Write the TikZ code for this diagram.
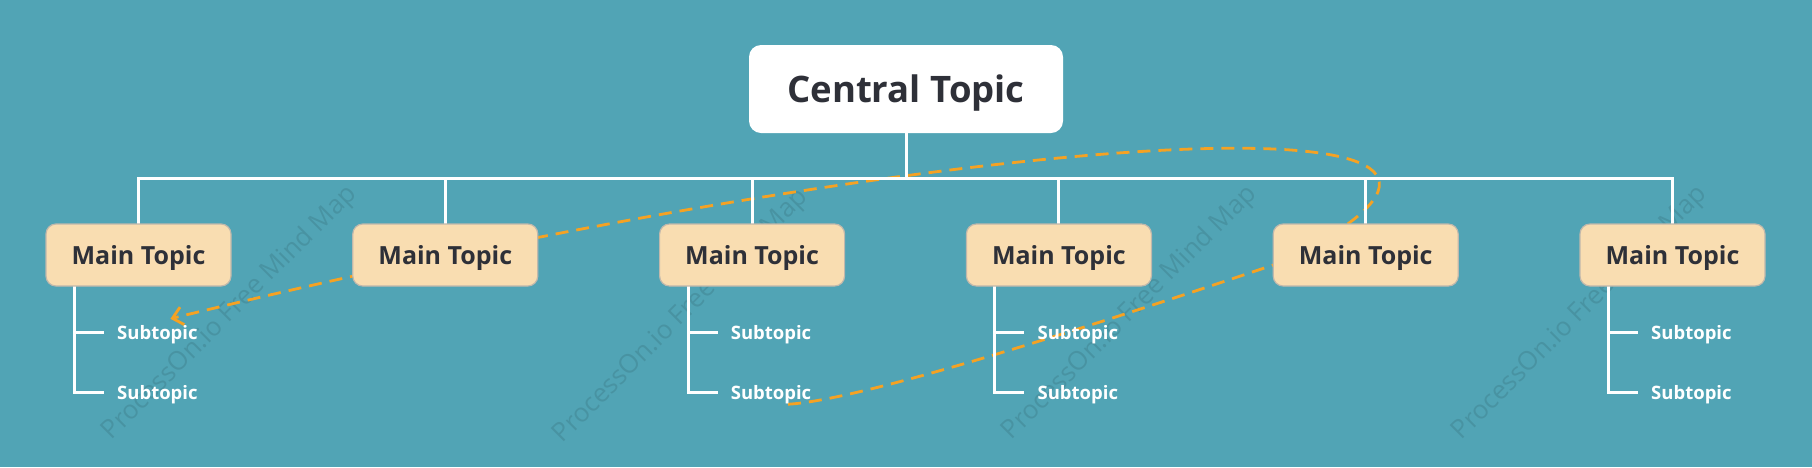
\documentclass[tikz,border=0pt]{standalone}
\usepackage{fontspec}
\setmainfont{Open Sans}
\usetikzlibrary{arrows.meta,positioning,calc,backgrounds}
\definecolor{Teal}{RGB}{81,164,181}
\definecolor{Peach}{RGB}{249,221,177}
\definecolor{PeachLine}{RGB}{192,184,172}
\definecolor{Ink}{RGB}{46,48,56}
\definecolor{Amber}{RGB}{245,162,35}

\begin{document}
\begin{tikzpicture}[x=1pt,y=-1pt,
    central/.style={rectangle,rounded corners=12pt,fill=white,text=Ink,outer sep=0pt,text depth=0pt,
                    font=\fontsize{36.5}{40}\selectfont\bfseries,minimum width=314pt,minimum height=88pt},
    main/.style={rectangle,rounded corners=10pt,draw=PeachLine,line width=1.2pt,fill=Peach,text=Ink,outer sep=0pt,
                 text depth=0pt,font=\fontsize{25}{28}\selectfont\bfseries,minimum width=185pt,minimum height=62pt},
    sub/.style={anchor=west,inner sep=2pt,text=white,text depth=0pt,font=\fontsize{18.5}{22}\selectfont\bfseries},
    tree/.style={draw=white,line width=3pt},
    subline/.style={tree,shorten >=11pt},
    link/.style={Amber,line width=2.8pt,dash pattern=on 13pt off 8pt},
    wmark/.style={rotate=45,text=black,text opacity=0.1,font=\fontsize{26}{30}\selectfont}]

  \useasboundingbox (0,0) rectangle (1812,467);

  \node[central] (ct) at (906,89) {Central Topic};
  \node[main] (mt1) at (138.5,255) {Main Topic};
  \node[main, right=121.8pt of mt1] (mt2) {Main Topic};
  \node[main, right=121.8pt of mt2] (mt3) {Main Topic};
  \node[main, right=121.8pt of mt3] (mt4) {Main Topic};
  \node[main, right=121.8pt of mt4] (mt5) {Main Topic};
  \node[main, right=121.8pt of mt5] (mt6) {Main Topic};

  \node[sub] (s11) at ($(mt1.south)+(-23.5,46)$) {Subtopic};
  \node[sub] (s12) at ($(mt1.south)+(-23.5,106)$) {Subtopic};
  \node[sub] (s31) at ($(mt3.south)+(-23.5,46)$) {Subtopic};
  \node[sub] (s32) at ($(mt3.south)+(-23.5,106)$) {Subtopic};
  \node[sub] (s41) at ($(mt4.south)+(-23.5,46)$) {Subtopic};
  \node[sub] (s42) at ($(mt4.south)+(-23.5,106)$) {Subtopic};
  \node[sub] (s61) at ($(mt6.south)+(-23.5,46)$) {Subtopic};
  \node[sub] (s62) at ($(mt6.south)+(-23.5,106)$) {Subtopic};

  \begin{scope}[on background layer]
    \fill[Teal] (0,0) rectangle (1812,467);
    \node[wmark] (wm1) at (230,313) {ProcessOn.io Free Mind Map};
    \node[wmark] (wm2) at (681,316) {ProcessOn.io Free Mind Map};
    \node[wmark] (wm3) at (1130,313) {ProcessOn.io Free Mind Map};
    \node[wmark] (wm4) at (1580,313) {ProcessOn.io Free Mind Map};

    % links
    \draw[link,-{Straight Barb[length=10pt,width=18pt]}] ($(mt5.north)+(-18,0)$)
      .. controls +(182,-133) and +(730,-179) .. ($(s11.north)+(13,-4)$);
    \draw[link] ($(s32.south)+(17,3)$)
      .. controls +(72,-4) and +(-193,65) .. ($(mt5.west)+(0,10)$);

    % tree
    \draw[tree] (ct.south) -- ++(0,45) coordinate (hub);
    \draw[tree] (mt1.north) |- (hub) -| (mt6.north);
    \draw[tree] (mt2.north) -- (mt2.north |- hub);
    \draw[tree] (mt3.north) -- (mt3.north |- hub);
    \draw[tree] (mt4.north) -- (mt4.north |- hub);
    \draw[tree] (mt5.north) -- (mt5.north |- hub);

    \draw[subline] ($(mt1.south)+(-64,0)$) |- (s11.west);
    \draw[subline] ($(mt1.south)+(-64,0)$) |- (s12.west);
    \draw[subline] ($(mt3.south)+(-64,0)$) |- (s31.west);
    \draw[subline] ($(mt3.south)+(-64,0)$) |- (s32.west);
    \draw[subline] ($(mt4.south)+(-64,0)$) |- (s41.west);
    \draw[subline] ($(mt4.south)+(-64,0)$) |- (s42.west);
    \draw[subline] ($(mt6.south)+(-64,0)$) |- (s61.west);
    \draw[subline] ($(mt6.south)+(-64,0)$) |- (s62.west);
  \end{scope}
\end{tikzpicture}
\end{document}
